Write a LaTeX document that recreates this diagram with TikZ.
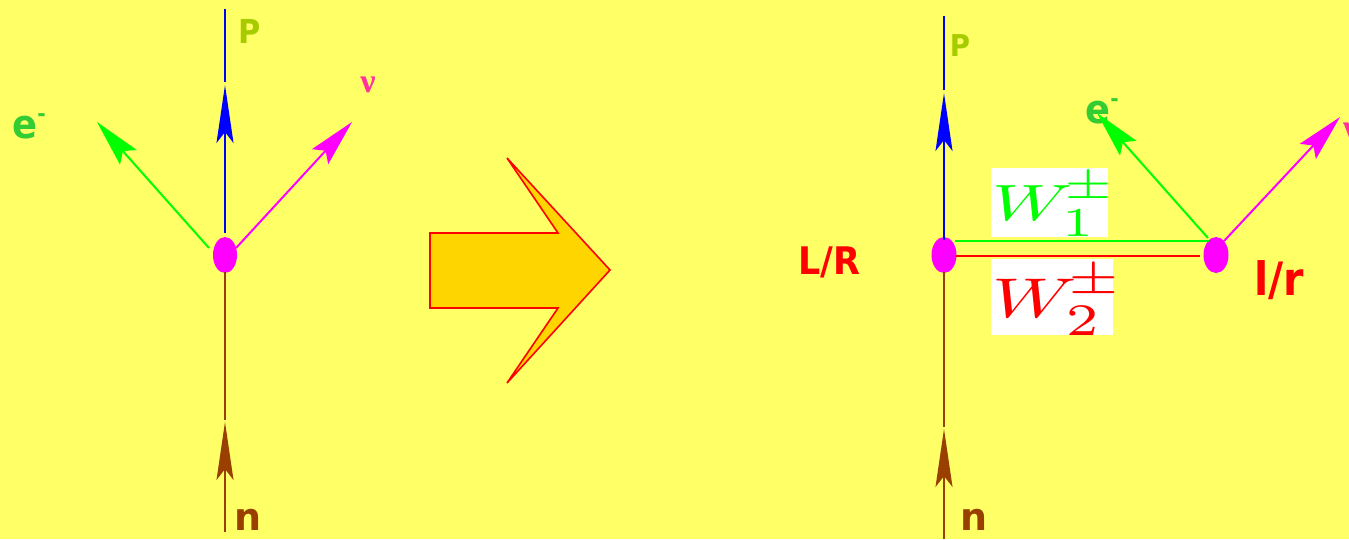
\documentclass[tikz,border=0pt]{standalone}
\usepackage{amsmath}
\usepackage{graphicx}
\usepackage{fontspec}
\setmainfont{DejaVu Sans}
\newfontfamily\nufont{Liberation Serif}
\usetikzlibrary{arrows.meta,shapes.geometric}
\definecolor{bg}{HTML}{FFFF66}
\definecolor{cblue}{HTML}{0000FF}
\definecolor{cbrown}{HTML}{993F00}
\definecolor{cgreen}{HTML}{00FF00}
\definecolor{cmag}{HTML}{FF00FF}
\definecolor{cred}{HTML}{FF0000}
\definecolor{cgold}{HTML}{FFD500}
\definecolor{lblP}{HTML}{A6CC00}
\definecolor{lble}{HTML}{33CC33}
\definecolor{lblnu}{HTML}{FF3399}
\tikzset{
  x=1pt,y=-1pt,
  vert/.style={ellipse,fill=cmag,draw=none,inner sep=0pt,minimum width=24pt,minimum height=36pt},
  wire/.style={line width=2pt},
  hwire/.style={line width=2.8pt},
  headlong/.style={wire,-{Stealth[length=58pt,width=17pt,inset=11pt]}},
  headdiag/.style={wire,-{Stealth[length=47pt,width=22pt,inset=8pt]}},
  lbl/.style={inner sep=0pt,font=\bfseries},
  wbox/.style={fill=white,inner sep=0pt},
}
\newcommand{\fs}[1]{\fontsize{#1}{#1}\selectfont}
\newcommand{\sq}[1]{\scalebox{.92}[1]{#1}}
% #1 subscript, #2 x scale, #3 y scale
\newcommand{\wlabel}[3]{\scalebox{#2}[#3]{$W_{\raisebox{0pt}{\scalebox{1.05}[1.15]{$\scriptstyle #1$}}}^{\hspace{-1pt}\raisebox{.8pt}{\scalebox{1.04}[1.1]{$\scriptstyle\pm$}}}$}}
\begin{document}
\begin{tikzpicture}
\useasboundingbox (0,0) rectangle (1349,539);
\fill[bg] (0,0) rectangle (1349,539);

% left diagram
\node[vert] (v) at (225,255) {};
\coordinate (pTop) at (225,9);
\coordinate (pMid) at (225,82);
\coordinate (pTip) at (225,85);
\coordinate (pLow) at (225,233);
\coordinate (nA) at (225,272);
\coordinate (nB) at (225,420);
\coordinate (nTip) at (225,422);
\coordinate (nEnd) at (225,532);
\coordinate (eS) at (209,248);
\coordinate (eT) at (97,122);
\coordinate (nuS) at (236,248);
\coordinate (nuT) at (352,122);
\draw[wire,cblue] (pTop) -- (pMid);
\draw[headlong,cblue] (pLow) -- (pTip);
\draw[wire,cbrown] (nA) -- (nB);
\draw[headlong,cbrown] (nEnd) -- (nTip);
\draw[headdiag,cgreen] (eS) -- (eT);
\draw[headdiag,cmag] (nuS) -- (nuT);
\node[lbl,text=lblP,anchor=center] (lP) at (250,31) {\sq{\fs{33}P}};
\node[lbl,text=lble,anchor=center] (lE) at (29,126) {\sq{\fs{40}e\raisebox{.42em}{\fs{22}-}}};
\node[lbl,text=lblnu,anchor=center] (lNu) at (368,85) {\fs{34}\nufont\bfseries ν};
\node[lbl,text=cbrown,anchor=center] (lN) at (248,520) {\scalebox{1}[1]{\fs{38}n}};

% big arrow
\draw[cred,line width=1.6pt,fill=cgold,line join=miter]
  (430,233) -- (558,233) -- (507,158) -- (610,270) -- (507,383) -- (558,308) -- (430,308) -- cycle;

% right diagram
\node[wbox,minimum width=117pt,minimum height=69pt] (w1) at (1049.5,202.5) {};
\node[wbox,minimum width=122pt,minimum height=76pt] (w2) at (1052,297) {};
\node[inner sep=0pt,text=cgreen,anchor=base west] (w1t) at (992,220) {\wlabel{1}{7.4}{5.1}};
\node[inner sep=0pt,text=cred,anchor=base west] (w2t) at (992,317) {\wlabel{2}{7.8}{5.6}};
\node[vert,minimum width=25pt] (a) at (944,255) {};
\node[vert,minimum width=25pt] (b) at (1216,255) {};
\coordinate (qTop) at (944,16);
\coordinate (qMid) at (944,90);
\coordinate (qTip) at (944,93);
\coordinate (qLow) at (944,240);
\coordinate (mA) at (944,272);
\coordinate (mB) at (944,427);
\coordinate (mTip) at (944,429);
\coordinate (mEnd) at (944,539);
\coordinate (g1) at (955,241);
\coordinate (g2) at (1209,241);
\coordinate (r1) at (955,256);
\coordinate (r2) at (1200,256);
\coordinate (e2S) at (1208,238);
\coordinate (e2T) at (1097,113);
\coordinate (nu2S) at (1224,241);
\coordinate (nu2T) at (1340,117);
\node[lbl,text=lble,anchor=center] (rE) at (1102,111) {\sq{\fs{40}e\raisebox{.42em}{\fs{22}-}}};
\draw[wire,cblue] (qTop) -- (qMid);
\draw[headlong,cblue] (qLow) -- (qTip);
\draw[wire,cbrown] (mA) -- (mB);
\draw[headlong,cbrown] (mEnd) -- (mTip);
\draw[hwire,cgreen] (g1) -- (g2);
\draw[hwire,cred] (r1) -- (r2);
\draw[headdiag,cgreen] (e2S) -- (e2T);
\draw[headdiag,cmag] (nu2S) -- (nu2T);
\node[lbl,text=lblP,anchor=center] (rP) at (960,46) {\sq{\fs{30}P}};
\node[lbl,text=lblnu,anchor=west] (rNu) at (1343,131) {\fs{34}\nufont\bfseries ν};
\node[lbl,text=cbrown,anchor=center] (rN) at (974,520) {\scalebox{1}[1]{\fs{38}n}};
\node[lbl,text=cred,anchor=center] (LR) at (829,262) {\sq{\fs{38}L/R}};
\node[lbl,text=cred,anchor=center] (lr) at (1279,280) {\scalebox{.9}[1]{\fs{46}l/r}};
\end{tikzpicture}
\end{document}
